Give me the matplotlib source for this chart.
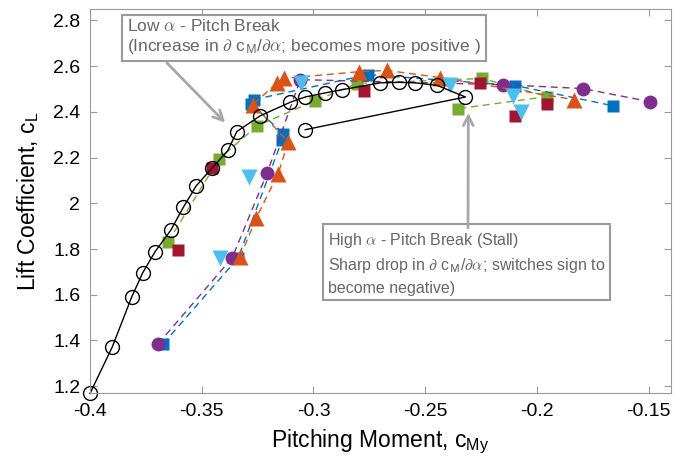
import matplotlib
matplotlib.use("Agg")
import matplotlib.pyplot as plt

plt.rcParams['font.family'] = ['Liberation Sans', 'DejaVu Sans']
plt.rcParams['mathtext.fontset'] = 'custom'
plt.rcParams['mathtext.rm'] = 'Liberation Sans'
plt.rcParams['mathtext.it'] = 'Liberation Sans:italic'
plt.rcParams['mathtext.sf'] = 'Liberation Sans'

# reference run (black open circles)
ref_cm = [-0.4000, -0.3901, -0.3813, -0.3764, -0.3709, -0.3638, -0.3582, -0.3525,
          -0.3453, -0.3383, -0.3343, -0.3238, -0.3104, -0.3037, -0.2947, -0.2872,
          -0.2701, -0.2616, -0.2544, -0.2447, -0.2320, -0.3037]
ref_cl = [1.168, 1.370, 1.591, 1.696, 1.788, 1.883, 1.983, 2.076,
          2.155, 2.231, 2.314, 2.383, 2.442, 2.465, 2.483, 2.497,
          2.527, 2.529, 2.527, 2.516, 2.465, 2.322]

# configurations with dashed lines
blue_cm = [-0.3673, -0.3337, -0.3140, -0.3135, -0.3279, -0.3265, -0.2755, -0.2096, -0.1661]
blue_cl = [1.385, 1.761, 2.278, 2.304, 2.436, 2.454, 2.563, 2.515, 2.427]

orange_cm = [-0.3328, -0.3256, -0.3158, -0.3113, -0.3270, -0.3162, -0.3131,
             -0.2795, -0.2669, -0.2432, -0.1836]
orange_cl = [1.765, 1.936, 2.129, 2.269, 2.432, 2.528, 2.546,
             2.576, 2.581, 2.550, 2.454]

purple_cm = [-0.3695, -0.3364, -0.3207, -0.3059, -0.2150, -0.1796, -0.1496]
purple_cl = [1.385, 1.761, 2.133, 2.541, 2.519, 2.502, 2.445]

green_cm = [-0.3651, -0.3422, -0.3252, -0.2992, -0.2804, -0.2244, -0.1953, -0.2351]
green_cl = [1.831, 2.195, 2.339, 2.449, 2.524, 2.546, 2.467, 2.414]

# configurations with markers only
cyan_cm = [-0.3418, -0.3288, -0.3055, -0.2387, -0.2109, -0.2073]
cyan_cl = [1.761, 2.116, 2.528, 2.519, 2.471, 2.401]

red_cm = [-0.3606, -0.3453, -0.2772, -0.2253, -0.2100, -0.1953]
red_cl = [1.796, 2.155, 2.493, 2.528, 2.383, 2.436]

fig = plt.figure(figsize=(6.75, 4.63), dpi=100)
ax = fig.add_axes([90/675, 1 - 393/463, 581/675, 384/463])

dash = (0, (5, 3.5))
ax.plot(green_cm, green_cl, ls=dash, lw=1, color='#77AC30', marker='s', ms=8.5, mec='none')
ax.plot(blue_cm, blue_cl, ls=dash, lw=1, color='#0072BD', marker='s', ms=8.5, mec='none')
ax.plot(purple_cm, purple_cl, ls=dash, lw=1, color='#7E2F8E', marker='o', ms=10, mec='none')
ax.plot(orange_cm, orange_cl, ls=dash, lw=1, color='#D95319', marker='^', ms=11.5, mec='none')
ax.plot(red_cm, red_cl, ls='none', color='#A2142F', marker='s', ms=8.5, mec='none')
ax.plot(cyan_cm, cyan_cl, ls='none', color='#4DBEEE', marker='v', ms=11.5, mec='none')
ax.plot(ref_cm, ref_cl, '-', color='black', lw=1, marker='o', ms=10, mfc='none', mec='black', mew=1,
        clip_on=False)

ax.set_xlim(-0.4, -0.14)
ax.set_ylim(1.17, 2.85)
ax.set_xticks([-0.4, -0.35, -0.3, -0.25, -0.2, -0.15])
ax.set_xticklabels(['-0.4', '-0.35', '-0.3', '-0.25', '-0.2', '-0.15'])
ax.set_yticks([1.2, 1.4, 1.6, 1.8, 2.0, 2.2, 2.4, 2.6, 2.8])
ax.set_yticklabels(['1.2', '1.4', '1.6', '1.8', '2', '2.2', '2.4', '2.6', '2.8'])
ax.tick_params(direction='in', top=True, right=True, length=5, width=0.8,
               color='#9a9a9a', labelsize=14, pad=7)
for s in ax.spines.values():
    s.set_color('#9a9a9a')
    s.set_linewidth(0.8)

ax.set_xlabel(r'Pitching Moment, c$_{\mathrm{My}}$', fontsize=16.5)
ax.set_ylabel(r'Lift Coefficient, c$_{\mathrm{L}}$', fontsize=16.5)
ax.xaxis.set_label_coords(0.5, -0.09)
ax.yaxis.set_label_coords(-0.085, 0.5)

box = dict(boxstyle='square,pad=0.3', fc='white', ec='#9a9a9a', lw=1.5)
arrow = dict(arrowstyle='->,head_length=0.7,head_width=0.35', color='#a8a8a8', lw=2,
             shrinkA=0, shrinkB=0)

ax.text(127, 445, 'Low $\\alpha$ - Pitch Break\n(Increase in $\\partial$ c$_{\\mathsf{M}}$/$\\partial\\alpha$; becomes more positive )',
        transform=None, ha='left', va='top', fontsize=12.5, color='#666666', bbox=box,
        math_fontfamily='cm')
ax.annotate('', xy=(-0.3395, 2.353), xycoords='data',
            xytext=(167, 400), textcoords='figure pixels', arrowprops=arrow)

ax.text(328, 232, 'High $\\alpha$ - Pitch Break (Stall)\nSharp drop in $\\partial$ c$_{\\mathsf{M}}$/$\\partial\\alpha$; switches sign to\nbecome negative)',
        transform=None, ha='left', va='top', fontsize=11.5, color='#666666', bbox=box,
        math_fontfamily='cm', linespacing=1.45)
ax.annotate('', xy=(-0.2307, 2.396), xycoords='data',
            xytext=(468, 235), textcoords='figure pixels', arrowprops=arrow)

fig.savefig('out.png', dpi=100)
